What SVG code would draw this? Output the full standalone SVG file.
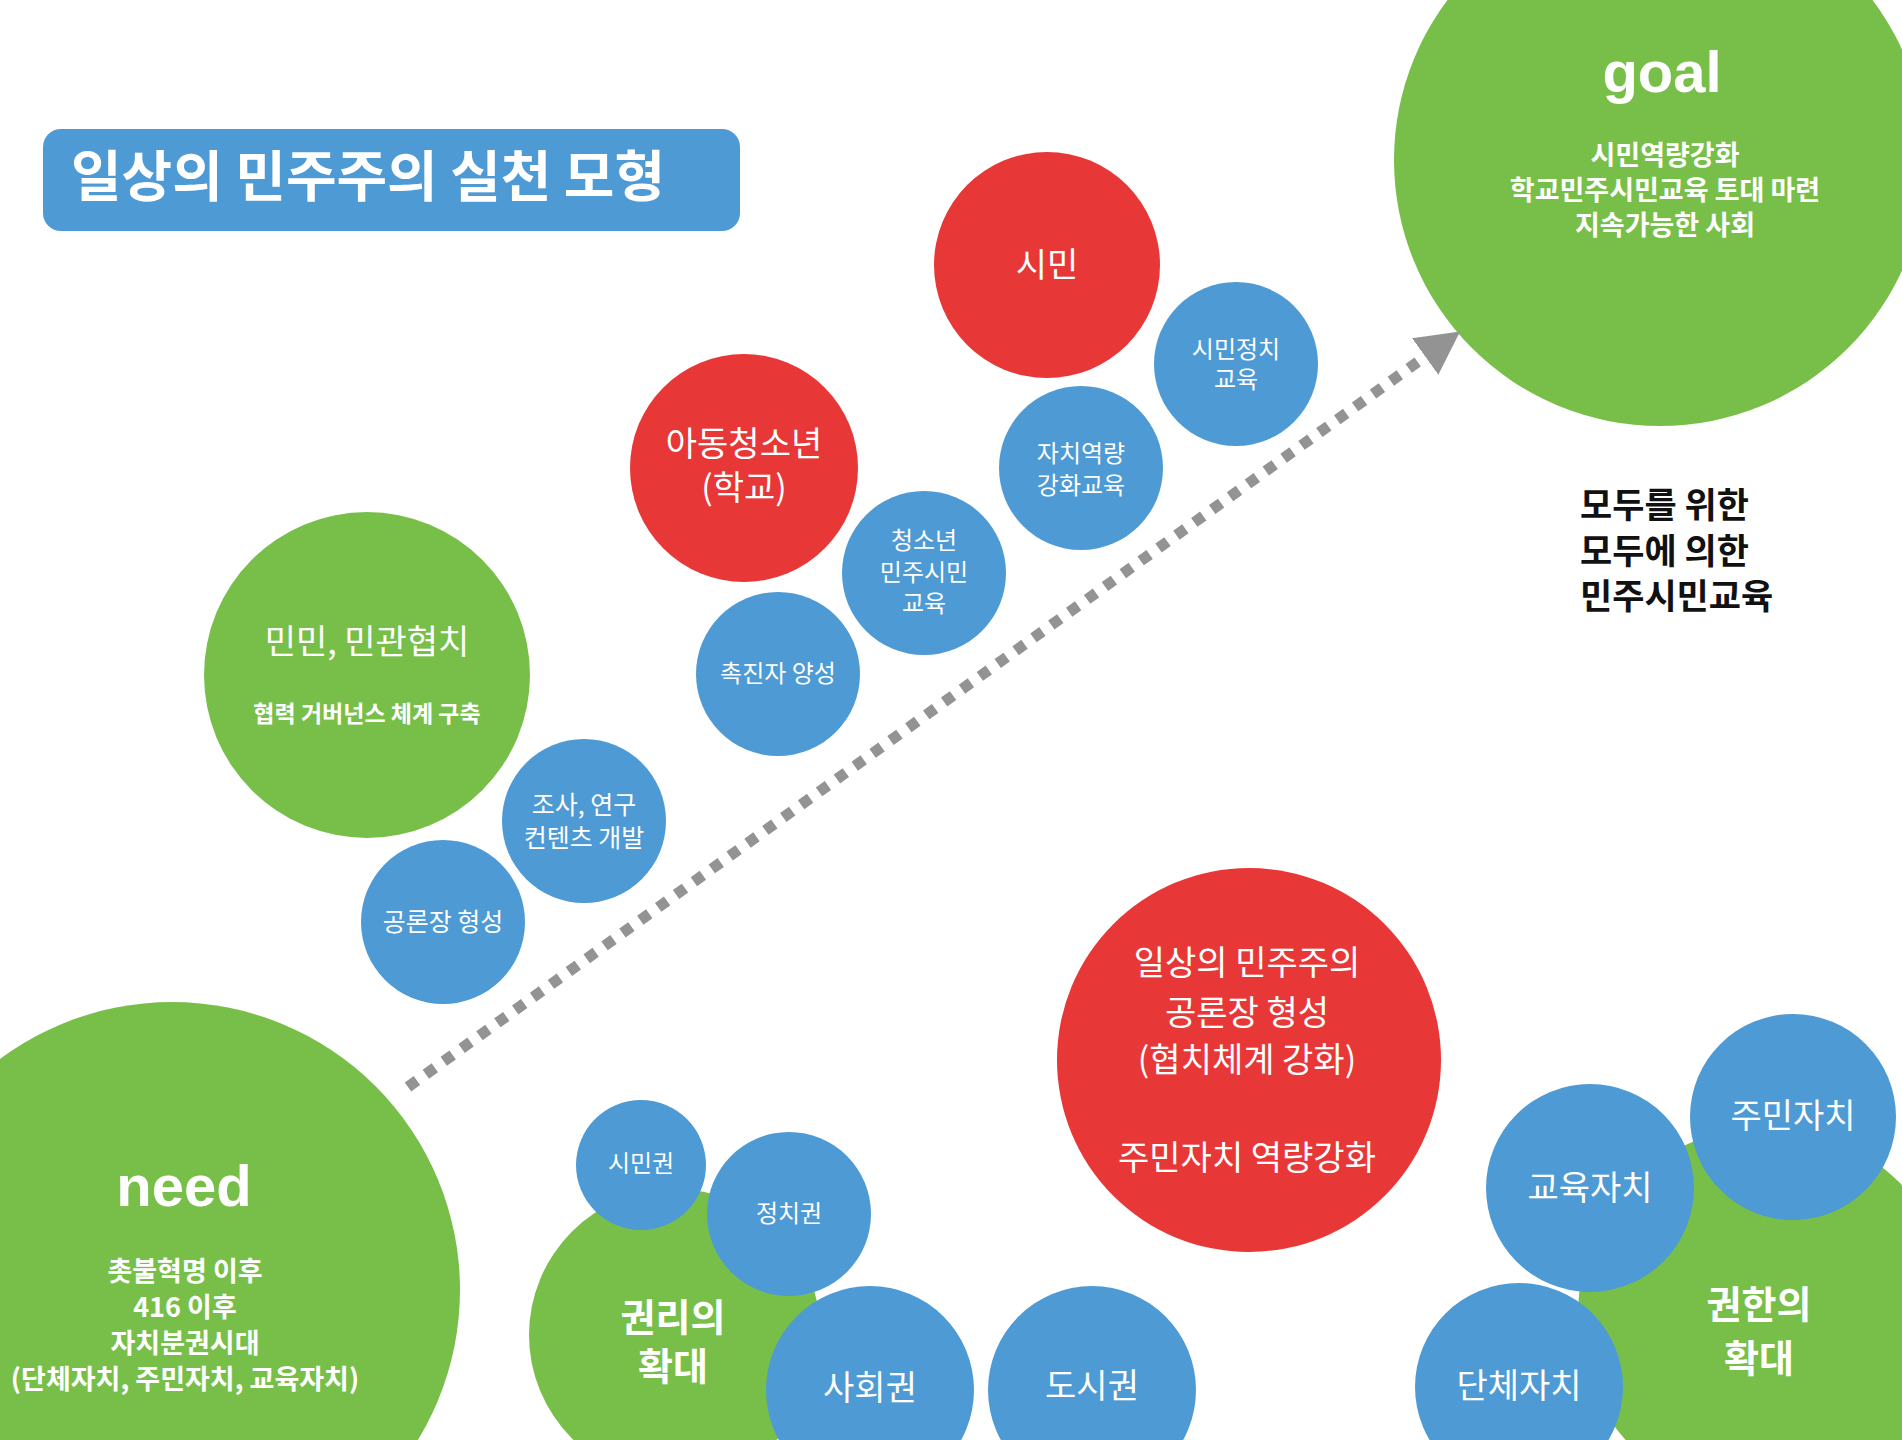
<svg xmlns="http://www.w3.org/2000/svg" width="1902" height="1440" viewBox="0 0 1902 1440">
<defs>
<style>
.b{fill:#4e9ad4}.g{fill:#78bf4a}.r{fill:#e83737}
.t{font-family:"Noto Sans CJK KR","Noto Sans",sans-serif;fill:#fff;text-anchor:middle}
.tb{font-family:"Noto Sans CJK KR","Noto Sans",sans-serif;fill:#fff;text-anchor:middle;font-weight:bold}
.en{font-family:"Liberation Sans",Arial,sans-serif;font-weight:bold;fill:#fff;text-anchor:middle}
.s24{font-size:24px}.s25{font-size:25px}.s34{font-size:34px}.s38{font-size:38px}.s27{font-size:27px}
</style>
<marker id="ah" markerUnits="userSpaceOnUse" markerWidth="46" markerHeight="48" viewBox="0 -24 46 48" refX="1" refY="0" orient="auto">
<path d="M0,-22.5 L43,0 L0,22.5 Z" fill="#939393"/>
</marker>
</defs>
<rect width="1902" height="1440" fill="#fff"/>

<g id="title">
<rect x="43" y="129" width="697" height="102" rx="18" fill="#4e9ad4"/>
<text x="71" y="196" font-family="Noto Sans CJK KR, sans-serif" font-weight="bold" font-size="55" fill="#fff">일상의 민주주의 실천 모형</text>
</g>

<g id="goal">
<circle class="g" cx="1660" cy="160" r="266"/>
<text class="en" x="1662" y="92" font-size="58">goal</text>
<text class="tb s27" x="1665" y="165">시민역량강화<tspan x="1665" dy="35">학교민주시민교육 토대 마련</tspan><tspan x="1665" dy="35">지속가능한 사회</tspan></text>
</g>

<g id="slogan">
<text x="1580" y="518" font-family="Noto Sans CJK KR, sans-serif" font-weight="bold" font-size="35" fill="#111">모두를 위한<tspan x="1580" dy="46">모두에 의한</tspan><tspan x="1580" dy="45">민주시민교육</tspan></text>
</g>

<g id="connectors">
<path d="M408,1087 L1426,356" fill="none" stroke="#939393" stroke-width="11" stroke-dasharray="11 11" marker-end="url(#ah)"/>
</g>

<g id="citizen">
<circle class="r" cx="1047" cy="265" r="113"/>
<text class="t s34" x="1047" y="277">시민</text>
</g>
<g id="civic-political-edu">
<circle class="b" cx="1236" cy="364" r="82"/>
<text class="t s24" x="1236" y="358">시민정치<tspan x="1236" dy="30">교육</tspan></text>
</g>
<g id="autonomy-edu">
<circle class="b" cx="1081" cy="468" r="82"/>
<text class="t s24" x="1081" y="462">자치역량<tspan x="1081" dy="32">강화교육</tspan></text>
</g>
<g id="youth">
<circle class="r" cx="744" cy="468" r="114"/>
<text class="t s34" x="744" y="456">아동청소년<tspan x="744" dy="44">(학교)</tspan></text>
</g>
<g id="youth-edu">
<circle class="b" cx="924" cy="573" r="82"/>
<text class="t s24" x="924" y="549">청소년<tspan x="924" dy="32">민주시민</tspan><tspan x="924" dy="31">교육</tspan></text>
</g>
<g id="facilitator">
<circle class="b" cx="778" cy="674" r="82"/>
<text class="t s24" x="778" y="682">촉진자 양성</text>
</g>
<g id="cooperation">
<circle class="g" cx="367" cy="675" r="163"/>
<text class="t s34" x="367" y="654">민민, 민관협치<tspan class="tb" x="367" dy="68" font-size="23">협력 거버넌스 체계 구축</tspan></text>
</g>
<g id="research">
<circle class="b" cx="584" cy="821" r="82"/>
<text class="t s25" x="584" y="814">조사, 연구<tspan x="584" dy="33">컨텐츠 개발</tspan></text>
</g>
<g id="forum">
<circle class="b" cx="443" cy="922" r="82"/>
<text class="t s25" x="443" y="931">공론장 형성</text>
</g>

<g id="need">
<circle class="g" cx="172" cy="1290" r="288"/>
<text class="en" x="184" y="1206" font-size="58">need</text>
<text class="tb s27" x="185" y="1281">촛불혁명 이후<tspan x="185" dy="36">416 이후</tspan><tspan x="185" dy="36">자치분권시대</tspan><tspan x="185" dy="36">(단체자치, 주민자치, 교육자치)</tspan></text>
</g>

<g id="rights">
<circle class="g" cx="675" cy="1335" r="146"/>
<text class="tb s38" x="673" y="1331">권리의<tspan x="673" dy="49">확대</tspan></text>
</g>
<g id="civil-rights">
<circle class="b" cx="641" cy="1165" r="65"/>
<text class="t s24" x="641" y="1172">시민권</text>
</g>
<g id="political-rights">
<circle class="b" cx="789" cy="1214" r="82"/>
<text class="t s24" x="789" y="1222">정치권</text>
</g>
<g id="social-rights">
<circle class="b" cx="870" cy="1390" r="104"/>
<text class="t s34" x="870" y="1400">사회권</text>
</g>
<g id="city-rights">
<circle class="b" cx="1092" cy="1390" r="104"/>
<text class="t s34" x="1092" y="1398">도시권</text>
</g>

<g id="daily-democracy">
<circle class="r" cx="1249" cy="1060" r="192"/>
<text class="t s34" x="1247" y="975">일상의 민주주의<tspan x="1247" dy="50">공론장 형성</tspan><tspan x="1247" dy="47">(협치체계 강화)</tspan><tspan x="1247" dy="98">주민자치 역량강화</tspan></text>
</g>

<g id="authority">
<circle class="g" cx="1766" cy="1315" r="188"/>
<text class="tb s38" x="1759" y="1318">권한의<tspan x="1759" dy="54">확대</tspan></text>
</g>
<g id="edu-autonomy">
<circle class="b" cx="1590" cy="1188" r="104"/>
<text class="t s34" x="1590" y="1200">교육자치</text>
</g>
<g id="resident-autonomy">
<circle class="b" cx="1793" cy="1117" r="103"/>
<text class="t s34" x="1793" y="1128">주민자치</text>
</g>
<g id="local-autonomy">
<circle class="b" cx="1519" cy="1387" r="104"/>
<text class="t s34" x="1519" y="1398">단체자치</text>
</g>
</svg>
